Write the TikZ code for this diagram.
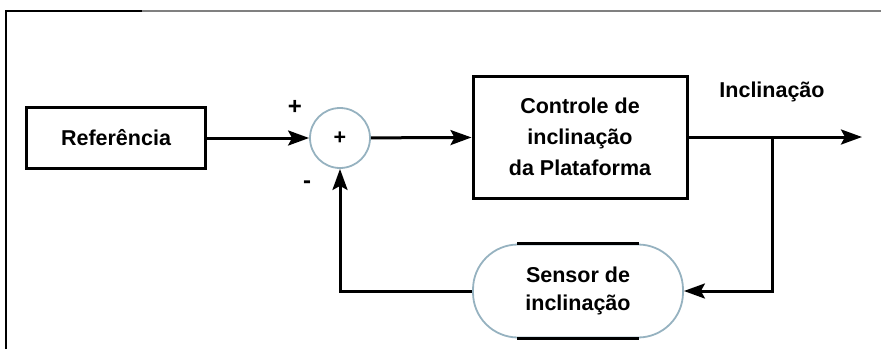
\documentclass[tikz,border=0pt]{standalone}
\usepackage{fontspec}
\setmainfont{Liberation Sans}
\usetikzlibrary{arrows.meta}
\definecolor{pale}{RGB}{150,178,192}
\begin{document}
\begin{tikzpicture}[x=1pt,y=-1pt,
  line/.style={line width=3pt},
  arr/.style={line, -{Stealth[length=21pt,width=15pt,inset=4pt]}},
  txt/.style={font=\fontsize{21.5}{31}\selectfont\bfseries, align=center},
  block/.style={txt, draw, line width=3pt, inner sep=0pt},
  pal/.style={txt, draw=pale, line width=1.8pt, inner sep=0pt}]
\useasboundingbox (0,0) rectangle (881,349);
% frame
\draw[line width=2.2pt] (6,349) -- (6,11) -- (142,11);
\draw[line width=2.2pt, gray] (142,11) -- (881,11);
% nodes
\node[block, minimum width=179pt, minimum height=61pt] (ref) at (116,138) {Referência};
\node[pal, circle, minimum size=60pt] (sum) at (340,138) {+};
\node[block, minimum width=214pt, minimum height=122pt] (ctrl) at (580,137) {Controle de\\inclinação\\da Plataforma};
\node[pal, rounded corners=45pt, minimum width=210pt, minimum height=93pt,
      font=\fontsize{21.5}{28}\selectfont\bfseries] (sens) at (578,291) {Sensor de\\inclinação};
\draw[line] ([xshift=-61pt]sens.north) -- ([xshift=61pt]sens.north);
\draw[line] ([xshift=-61pt]sens.south) -- ([xshift=61pt]sens.south);
% labels
\node[txt] (inc) at (772,92) {Inclinação};
\node[txt, font=\fontsize{24}{31}\selectfont\bfseries] (plus) at (295,107) {+};
\node[txt, font=\fontsize{24}{31}\selectfont\bfseries] (minus) at (307,185) {-};
% coordinates
\coordinate (out) at (862,137);
\coordinate (br) at (772,137);
% connectors
\draw[arr] (ref) -- (sum);
\draw[arr] (sum) -- (ctrl);
\draw[arr] (ctrl) -- (out);
\draw[arr] (br) |- (sens.east);
\draw[arr] (sens.west) -| (sum.south);
\end{tikzpicture}
\end{document}
